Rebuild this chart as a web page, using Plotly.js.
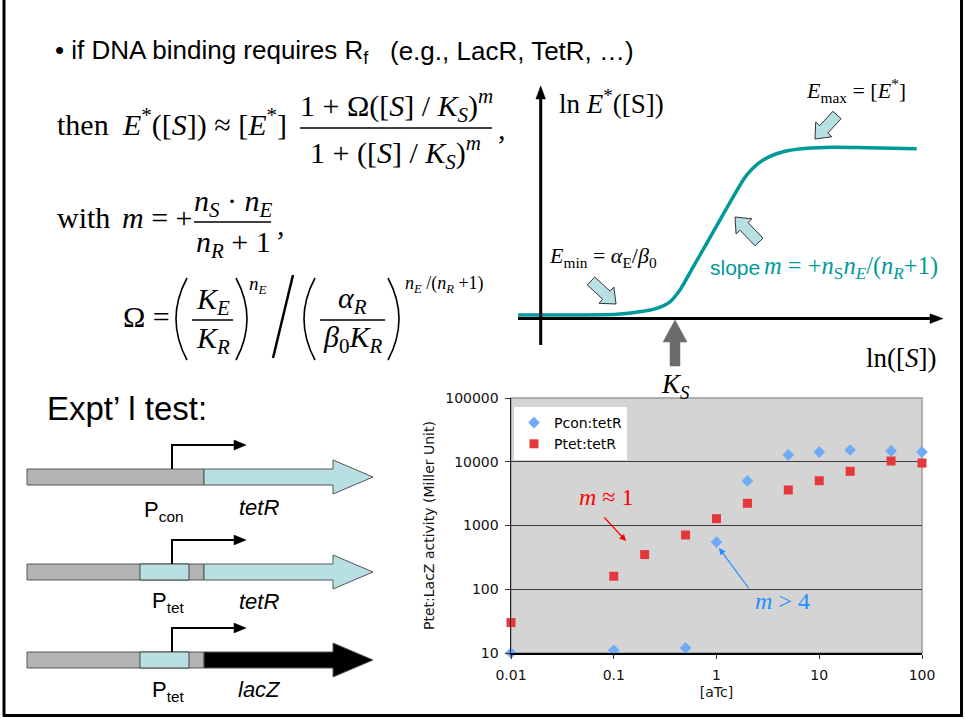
<!DOCTYPE html>
<html>
<head>
<meta charset="utf-8">
<script src="https://cdn.plot.ly/plotly-3.0.1.min.js"></script>
<style>html,body{margin:0;padding:0;background:#fff;}#chart{width:965px;height:719px;}</style>
</head>
<body>
<div id="chart"></div>
<script>
// ---------- data ----------
const pconX = [0.01, 0.1, 0.5, 1, 2, 5, 10, 20, 50, 100];
const pconY = [10, 11, 12, 550, 5000, 12800, 14200, 15300, 14800, 14200];
const ptetX = [0.01, 0.1, 0.2, 0.5, 1, 2, 5, 10, 20, 50, 100];
const ptetY = [30, 160, 350, 710, 1280, 2230, 3610, 5040, 7080, 10280, 9550];
const seriesNames = ['Pcon:tetR', 'Ptet:tetR'];
const xTickVals = [0.01, 0.1, 1, 10, 100];
const xTickText = ['0.01', '0.1', '1', '10', '100'];
const yTickVals = [10, 100, 1000, 10000, 100000];
const yTickText = ['10', '100', '1000', '10000', '100000'];
// schematic response curve (ln[S] vs ln E*)
const sigLnS = [-0.9, 1.04, 3.04, 3.97, 4.64, 5.17, 5.57, 6.10, 6.64, 7.17, 7.70, 8.24, 8.90, 9.70, 10.64, 11.70, 13.04, 15.04];
const sigLnE = [0.13, 0.13, 0.16, 0.26, 0.40, 0.66, 1.13, 2.06, 3.00, 3.93, 4.86, 5.73, 6.33, 6.66, 6.80, 6.84, 6.82, 6.78];

// ---------- styles ----------
const W = 965, H = 719;
const SERIF = 'Liberation Serif, Times New Roman, serif';
const SANS = 'Liberation Sans, Arial, sans-serif';
const VERD = 'DejaVu Sans, Verdana, sans-serif';
const TEAL = '#009999';
const LBLUE = '#b8e0e4';
const GRAY = '#b3b3b3';

const px = v => v / W, py = v => 1 - v / H;

const traces = [
  {x: pconX, y: pconY, name: seriesNames[0], type: 'scatter', mode: 'markers', cliponaxis: false,
   marker: {symbol: 'diamond', size: 9, color: '#6eaaf5'}, xaxis: 'x', yaxis: 'y'},
  {x: ptetX, y: ptetY, name: seriesNames[1], type: 'scatter', mode: 'markers', cliponaxis: false,
   marker: {symbol: 'square', size: 9, color: '#e5383d'}, xaxis: 'x', yaxis: 'y'},
  {x: sigLnS, y: sigLnE, type: 'scatter', mode: 'lines', showlegend: false, hoverinfo: 'skip',
   line: {color: TEAL, width: 3.5, shape: 'spline', smoothing: 0.8}, xaxis: 'x2', yaxis: 'y2'},
  {x: [], y: [], type: 'scatter', mode: 'markers', showlegend: false, hoverinfo: 'skip', xaxis: 'x3', yaxis: 'y3'}
];

// ---------- helpers for slide decorations (page pixel frame x3/y3) ----------
const ann = [];
function T(x, y, text, o) {
  o = o || {};
  ann.push({xref: 'x3', yref: 'y3', x: x, y: y, text: text, showarrow: false,
    xanchor: o.xa || 'left', yanchor: 'middle',
    font: {family: o.family || SERIF, size: o.size || 30, color: o.color || '#000'}});
}
function A(x, y, ax, ay, color, w) {
  ann.push({xref: 'x3', yref: 'y3', axref: 'x3', ayref: 'y3', x: x, y: y, ax: ax, ay: ay, text: '',
    showarrow: true, arrowhead: 2, arrowsize: 1.1, arrowwidth: w || 1.2, arrowcolor: color, standoff: 0, startstandoff: 0});
}
const shp = [];
function L(x0, y0, x1, y1, color, w) {
  shp.push({type: 'line', xref: 'x3', yref: 'y3', x0: x0, y0: y0, x1: x1, y1: y1,
    line: {color: color || '#000', width: w || 1.5}, layer: 'above'});
}
function P(path, fill, lcolor, w) {
  shp.push({type: 'path', xref: 'x3', yref: 'y3', path: path, fillcolor: fill || 'rgba(0,0,0,0)',
    line: {color: lcolor || '#000', width: w === undefined ? 1 : w}, layer: 'above'});
}
function R(x0, y0, x1, y1, fill, lcolor) {
  shp.push({type: 'rect', xref: 'x3', yref: 'y3', x0: x0, y0: y0, x1: x1, y1: y1, fillcolor: fill,
    line: {color: lcolor || '#555', width: 1}, layer: 'above'});
}
function poly(pts) { return 'M' + pts.map(p => p[0].toFixed(1) + ',' + p[1].toFixed(1)).join('L') + 'Z'; }
function blockArrow(x1, y1, x2, y2, sw, hw, hl) {
  const dx = x2 - x1, dy = y2 - y1, Ln = Math.hypot(dx, dy), ux = dx / Ln, uy = dy / Ln, nx = -uy, ny = ux;
  const bx = x2 - ux * hl, by = y2 - uy * hl;
  return poly([[x1 + nx * sw, y1 + ny * sw], [bx + nx * sw, by + ny * sw], [bx + nx * hw, by + ny * hw], [x2, y2],
    [bx - nx * hw, by - ny * hw], [bx - nx * sw, by - ny * sw], [x1 - nx * sw, y1 - ny * sw]]);
}

// ---------- slide frame ----------
L(4, 0, 4, 716, '#000', 3);
L(961.5, 0, 961.5, 716, '#000', 3);
L(3, 715.5, 963, 715.5, '#000', 3);

// ---------- top text ----------
T(53, 51, '•\u00a0if DNA binding requires R<sub>f</sub>', {family: SANS, size: 26});
T(388, 51, '(e.g., LacR, TetR, …)', {family: SANS, size: 26});

// ---------- formula ----------
T(55, 124, 'then', {});
T(120, 122, '<i>E</i><sup>*</sup>([<i>S</i>]) ≈ [<i>E</i><sup>*</sup>]', {});
T(396, 105, '1 + Ω([<i>S</i>] / <i>K</i><sub><i>S</i></sub>)<sup><i>m</i></sup>', {xa: 'center'});
L(300, 128, 492, 128, '#000', 1.5);
T(395, 152, '1 + ([<i>S</i>] / <i>K</i><sub><i>S</i></sub>)<sup><i>m</i></sup>', {xa: 'center'});
T(496, 128, ',', {});

T(55, 217, 'with', {});
T(120, 217, '<i>m</i> = +', {});
T(233, 203, '<i>n</i><sub><i>S</i></sub> · <i>n</i><sub><i>E</i></sub>', {xa: 'center'});
L(194, 222, 271, 222, '#000', 1.5);
T(233, 244, '<i>n</i><sub><i>R</i></sub> + 1', {xa: 'center'});
T(275, 224, ',', {});

T(121, 316, 'Ω =', {});
P('M187,278 Q165,319 187,360', null, '#000', 1.6);
T(213, 301, '<i>K</i><sub><i>E</i></sub>', {xa: 'center'});
L(192, 320, 233, 320, '#000', 1.5);
T(213, 340, '<i>K</i><sub><i>R</i></sub>', {xa: 'center'});
P('M236,278 Q258,319 236,360', null, '#000', 1.6);
T(258, 285, '<i>n</i><sub><i>E</i></sub>', {xa: 'center', size: 19});
L(273, 358, 293, 275, '#000', 2.5);
P('M315,278 Q293,319 315,360', null, '#000', 1.6);
T(352, 300, '<i>α</i><sub><i>R</i></sub>', {xa: 'center'});
L(320, 320, 385, 320, '#000', 1.5);
T(352, 339, '<i>β</i><sub>0</sub><i>K</i><sub><i>R</i></sub>', {xa: 'center'});
P('M388,278 Q410,319 388,360', null, '#000', 1.6);
T(403, 284, '<i>n</i><sub><i>E</i></sub> /(<i>n</i><sub><i>R</i></sub> +1)', {size: 18});

// ---------- response sketch ----------
L(540.7, 345, 540.7, 96, '#000', 3);
P(poly([[540.7, 86], [545.5, 99], [535.9, 99]]), '#000', '#000', 0.5);
L(518, 318.6, 932, 318.6, '#000', 3);
P(poly([[943, 318.6], [930, 313.8], [930, 323.4]]), '#000', '#000', 0.5);
T(557, 102, 'ln <i>E</i><sup>*</sup>([S])', {size: 27});
T(804, 90, '<i>E</i><sub>max</sub> = [<i>E</i><sup>*</sup>]', {size: 22});
T(547, 257, '<i>E</i><sub>min</sub> = <i>α</i><sub>E</sub>/<i>β</i><sub>0</sub>', {size: 22});
T(708, 267, 'slope', {family: SANS, size: 21, color: TEAL});
T(762, 267, '<i>m</i> = +<i>n</i><sub>S</sub><i>n</i><sub><i>E</i></sub>/(<i>n</i><sub><i>R</i></sub>+1)', {size: 24.5, color: TEAL});
T(864, 358, 'ln([<i>S</i>])', {size: 27});
T(675, 386, '<i>K</i><sub><i>S</i></sub>', {size: 27, xa: 'center'});
P(blockArrow(837, 115, 815, 139, 5.5, 11, 13), LBLUE, '#333', 1);
P(blockArrow(759, 242, 735, 217, 5.5, 11, 13), LBLUE, '#333', 1);
P(blockArrow(591, 281, 616, 304, 5.5, 11, 13), LBLUE, '#333', 1);
P(poly([[675, 320], [687, 342], [680, 342], [680, 366], [670, 366], [670, 342], [663, 342]]), '#6b6b6b', '#6b6b6b', 0.5);

// ---------- experimental constructs ----------
T(45, 408, 'Expt’ l test:', {family: SANS, size: 33});
function construct(yc, promoterBox, geneFill) {
  const top = yc - 8, bot = yc + 8;
  R(27, top, 204, bot, GRAY, '#555');
  if (promoterBox) R(140, top, 189, bot, LBLUE, '#444');
  P(poly([[204, top], [333, top], [333, yc - 17], [373, yc], [333, yc + 17], [333, bot], [204, bot]]), geneFill, '#555', 1);
  P('M172,' + top + ' L172,' + (yc - 32) + ' L236,' + (yc - 32), null, '#000', 2);
  P(poly([[246, yc - 32], [234, yc - 37], [234, yc - 27]]), '#000', '#000', 0.5);
}
construct(477, false, LBLUE);
construct(572, true, LBLUE);
construct(660, true, '#000');
T(164, 511, 'P<sub>con</sub>', {family: SANS, size: 22, xa: 'center'});
T(259, 507, '<i>tetR</i>', {family: SANS, size: 22, xa: 'center'});
T(168, 602, 'P<sub>tet</sub>', {family: SANS, size: 22, xa: 'center'});
T(259, 601, '<i>tetR</i>', {family: SANS, size: 22, xa: 'center'});
T(168, 691, 'P<sub>tet</sub>', {family: SANS, size: 22, xa: 'center'});
T(259, 689, '<i>lacZ</i>', {family: SANS, size: 22, xa: 'center'});

// ---------- data-chart annotations ----------
T(606, 497, '<i>m</i> ≈ 1', {size: 24, color: '#ff0000', xa: 'center'});
A(626, 541, 603, 516, '#ff0000', 1.2);
T(782, 601, '<i>m</i> > 4', {size: 24, color: '#1e8fff', xa: 'center'});
A(719, 548, 750, 590, '#1e8fff', 1.2);

// plot background & border of the data chart
shp.push({type: 'rect', xref: 'x domain', yref: 'y domain', x0: 0, x1: 1, y0: 0, y1: 1,
  fillcolor: '#d4d4d4', line: {color: '#9a9a9a', width: 1.5}, layer: 'below'});

const layout = {
  width: W, height: H, autosize: false,
  margin: {l: 0, r: 0, t: 0, b: 0, pad: 0},
  paper_bgcolor: '#fff', plot_bgcolor: 'rgba(0,0,0,0)',
  font: {family: VERD, color: '#000'},
  showlegend: true,
  legend: {x: px(514), y: py(407), xanchor: 'left', yanchor: 'top', bgcolor: '#fff', borderwidth: 0,
    font: {family: VERD, size: 14, color: '#000'}, tracegroupgap: 0, itemwidth: 30},
  xaxis: {type: 'log', domain: [px(511), px(922)], range: [-2, 2], anchor: 'y', fixedrange: true,
    showgrid: false, zeroline: false, showline: true, linecolor: '#000', linewidth: 1.5,
    ticks: 'outside', ticklen: 4, tickcolor: '#333', tickmode: 'array', tickvals: xTickVals, ticktext: xTickText,
    tickfont: {family: VERD, size: 14, color: '#111'}, ticklabelstandoff: 5,
    title: {text: '[aTc]', font: {family: VERD, size: 14, color: '#111'}, standoff: 5}},
  yaxis: {type: 'log', domain: [py(653), py(398)], range: [1, 5], anchor: 'x', fixedrange: true,
    showgrid: true, gridcolor: '#3c3c3c', gridwidth: 1.3, zeroline: false, showline: true, linecolor: '#222', linewidth: 1.5,
    ticks: 'outside', ticklen: 5, tickcolor: '#333', tickmode: 'array', tickvals: yTickVals, ticktext: yTickText,
    tickfont: {family: VERD, size: 14, color: '#111'}, ticklabelstandoff: 3,
    title: {text: 'Ptet:LacZ activity (Miller Unit)', font: {family: VERD, size: 14, color: '#111'}, standoff: 7}},
  xaxis2: {domain: [px(518), px(942)], range: [-0.908, 16.052], anchor: 'y2', visible: false, fixedrange: true},
  yaxis2: {domain: [py(345), py(88)], range: [-1.068, 9.212], anchor: 'x2', visible: false, fixedrange: true},
  xaxis3: {domain: [0, 1], range: [0, W], anchor: 'y3', visible: false, fixedrange: true},
  yaxis3: {domain: [0, 1], range: [H, 0], anchor: 'x3', visible: false, fixedrange: true},
  annotations: ann,
  shapes: shp
};

Plotly.newPlot('chart', traces, layout, {displayModeBar: false, staticPlot: true});
</script>
</body>
</html>
